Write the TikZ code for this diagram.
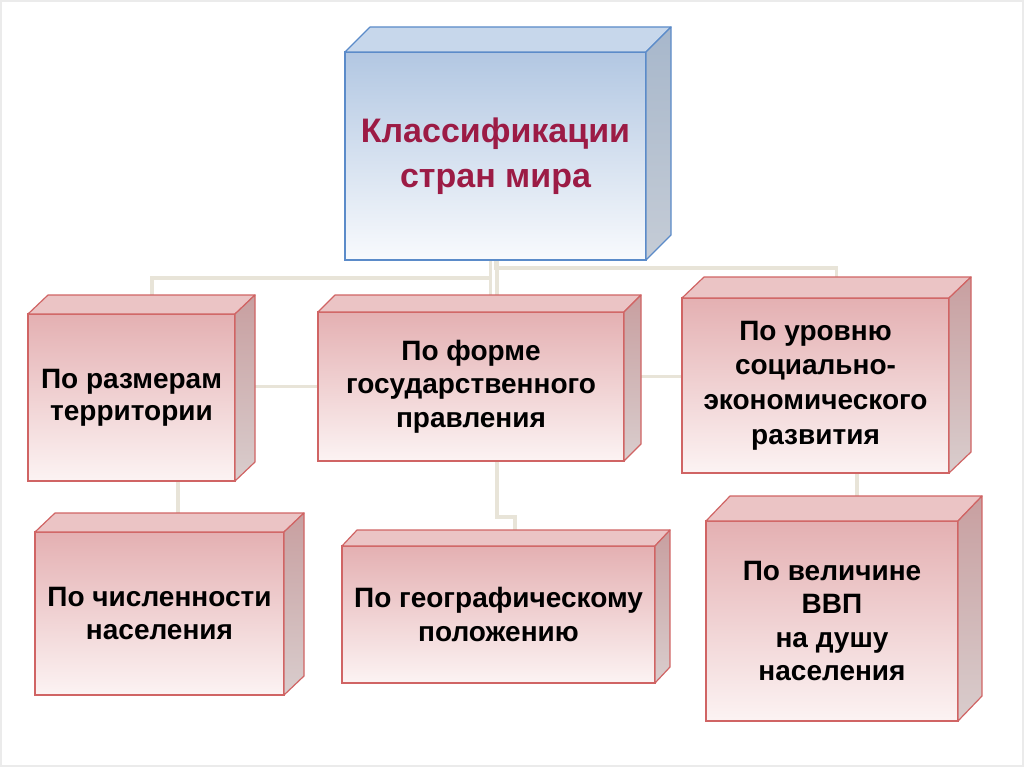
\documentclass[tikz,border=0pt]{standalone}
\usepackage{fontspec}
\setmainfont{Liberation Sans}
\usetikzlibrary{calc}
\pgfdeclarelayer{background}
\pgfsetlayers{background,main}
\definecolor{redFrontTop}{HTML}{E4B0B2}
\definecolor{redFrontMid}{HTML}{EAC1C2}
\definecolor{redFrontBot}{HTML}{FCF3F3}
\definecolor{redTop}{HTML}{EBC4C5}
\definecolor{redSideTop}{HTML}{C89FA0}
\definecolor{redSideBot}{HTML}{D9CDCD}
\definecolor{redLine}{HTML}{D06464}
\definecolor{bluFrontTop}{HTML}{B2C7E2}
\definecolor{bluFrontMid}{HTML}{C8D7EB}
\definecolor{bluFrontBot}{HTML}{F8FAFD}
\definecolor{bluTop}{HTML}{C7D7EB}
\definecolor{bluSideTop}{HTML}{A7B7CB}
\definecolor{bluSideBot}{HTML}{C5CCD6}
\definecolor{bluLine}{HTML}{5B8BC9}
\definecolor{titleRed}{HTML}{9C1B45}
\definecolor{connCol}{HTML}{E8E4D8}
\newcommand\cubefaces[4]{%
  \fill[#4top] (#1.north west) -- ++(#2,-#3) -- ($(#1.north east)+(#2,-#3)$) -- (#1.north east) -- cycle;
  \shade[#4side] (#1.north east) -- ++(#2,-#3) -- ($(#1.south east)+(#2,-#3)$) -- (#1.south east) -- cycle;
}
\begin{document}
\begin{tikzpicture}[x=0.75pt,y=-0.75pt,
  redbox/.style={draw=redLine, line width=0.9pt, top color=redFrontTop, middle color=redFrontMid, bottom color=redFrontBot,
    inner sep=0pt, outer sep=0pt, align=center, font=\bfseries\fontsize{21}{25}\selectfont, text=black},
  blubox/.style={draw=bluLine, line width=0.9pt, top color=bluFrontTop, middle color=bluFrontMid, bottom color=bluFrontBot,
    inner sep=0pt, outer sep=0pt, align=center, font=\bfseries\fontsize{25.5}{34}\selectfont, text=titleRed},
  redtop/.style={fill=redTop, draw=redLine, line width=0.9pt, line join=round},
  redside/.style={top color=redSideTop, bottom color=redSideBot, draw=redLine, line width=0.9pt, line join=round},
  blutop/.style={fill=bluTop, draw=bluLine, line width=0.9pt, line join=round},
  bluside/.style={top color=bluSideTop, bottom color=bluSideBot, draw=bluLine, line width=0.9pt, line join=round},
  conn/.style={draw=connCol, line width=2.4pt}
]
\useasboundingbox (0,0) rectangle (1024,767);

% front faces
\node[blubox, minimum width=301*0.75pt, minimum height=208*0.75pt] (root) at (495.5,156) {Классификации\\стран мира};
\node[redbox, minimum width=207*0.75pt, minimum height=167*0.75pt, font=\bfseries\fontsize{21}{24}\selectfont] (a) at (131.5,397.5) {По размерам\\территории};
\node[redbox, minimum width=306*0.75pt, minimum height=149*0.75pt] (b) at (471,386.5) {По форме\\государственного\\правления};
\node[redbox, minimum width=267*0.75pt, minimum height=175*0.75pt, font=\bfseries\fontsize{21}{26}\selectfont] (c) at (815.5,385.5) {По уровню\\социально-\\экономического\\развития};
\node[redbox, minimum width=249*0.75pt, minimum height=163*0.75pt] (a2) at (159.5,613.5) {По численности\\населения};
\node[redbox, minimum width=313*0.75pt, minimum height=137*0.75pt] (b2) at (498.5,614.5) {По географическому\\положению};
\node[redbox, minimum width=252*0.75pt, minimum height=200*0.75pt] (c2) at (832,621) {По величине\\ВВП\\на душу\\населения};

% 3D faces
\cubefaces{root}{25}{25}{blu}
\cubefaces{a}{20}{19}{red}
\cubefaces{b}{17}{17}{red}
\cubefaces{c}{22}{21}{red}
\cubefaces{a2}{20}{19}{red}
\cubefaces{b2}{15}{16}{red}
\cubefaces{c2}{24}{25}{red}

% background and connectors
\begin{pgfonlayer}{background}
\fill[white] (0,0) rectangle (1024,767);
\draw[black!8, line width=1pt] (1,1) rectangle (1023,766);
\draw[conn] (root.south) -- ++(0,8) -| ([xshift=16pt]c.north);
\draw[conn] ([xshift=-4pt]root.south) -- ++(0,18) -| ([xshift=15.4pt]a.north);
\draw[conn] ([xshift=-4pt]root.south) -- ([xshift=-4pt]root.south |- b.north);
\draw[conn] ([xshift=1.1pt]root.south) |- ([xshift=12.4pt,yshift=21.8pt]b2.north) -- ([xshift=12.4pt]b2.north);
\draw[conn] ([xshift=13.9pt]a2.north) -- ([xshift=13.9pt]a2.north |- a.south);
\draw[conn] ([xshift=18.75pt]c2.north) -- ([xshift=18.75pt]c2.north |- c.south);
\draw[conn] (b.west) -- (b.west -| a.east);
\draw[conn] ([yshift=7.5pt]b.east) -- ([yshift=7.5pt]b.east -| c.west);
\end{pgfonlayer}
\end{tikzpicture}
\end{document}
